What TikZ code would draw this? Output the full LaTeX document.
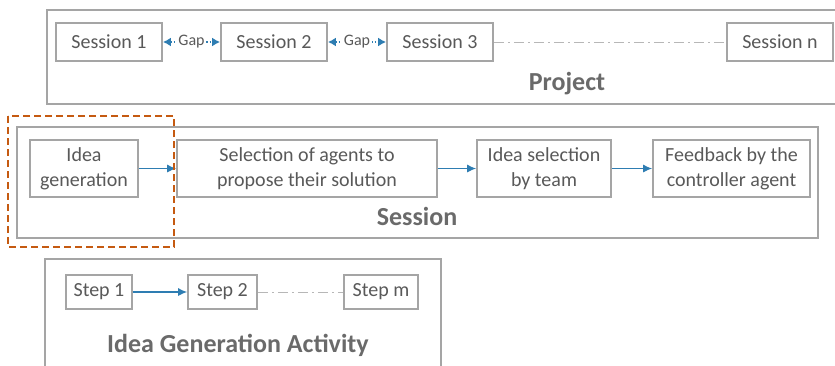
\documentclass[tikz,border=0pt]{standalone}
\usepackage{fontspec}
\setmainfont{Carlito}
\usetikzlibrary{arrows.meta}
\definecolor{boxgray}{RGB}{165,165,165}
\definecolor{txtgray}{RGB}{89,89,89}
\definecolor{flowblue}{RGB}{46,125,178}
\definecolor{markorange}{RGB}{197,90,17}
\tikzset{
	stage/.style={draw=boxgray,line width=1.8pt,fill=white,text=txtgray,align=center,
		inner sep=0pt,font=\fontsize{20}{25}\selectfont},
	frame/.style={draw=boxgray,line width=1.6pt},
	title/.style={text=txtgray!90!white,font=\fontsize{26}{30}\selectfont\bfseries},
	flow/.style={draw=flowblue,line width=1.1pt,-{Latex[length=9pt,width=8pt]}},
	gap/.style={draw=flowblue,line width=1.6pt,dash pattern=on 1.6pt off 2pt,
		{Latex[length=8pt,width=9pt]}-{Latex[length=8pt,width=9pt]}},
	later/.style={draw=boxgray!80!white,line width=1pt,dash pattern=on 10pt off 4pt on 2pt off 4pt}
}
\begin{document}
\begin{tikzpicture}[x=1pt,y=-1pt]
		\useasboundingbox (0,0) rectangle (835,365);
		% Project
		\draw[frame] (47,10) rectangle (845,104);
		\node[stage,minimum width=106,minimum height=38] (s1) at (109,42) {Session 1};
		\node[stage,minimum width=106,minimum height=38] (s2) at (274,42) {Session 2};
		\node[stage,minimum width=106,minimum height=38] (s3) at (440,42) {Session 3};
		\node[stage,minimum width=106,minimum height=38] (sn) at (780,42) {Session n};
		\draw[gap] (s1) -- (s2) node[midway,fill=white,inner sep=1.5pt,text=txtgray,font=\fontsize{16}{18}\selectfont] {Gap};
		\draw[gap] (s2) -- (s3) node[midway,fill=white,inner sep=1.5pt,text=txtgray,font=\fontsize{16}{18}\selectfont] {Gap};
		\draw[later] (s3) -- (sn);
		\node[title] (proj) at (567,84) {Project};
		% Session
		\draw[frame] (17,127) rectangle (818,238);
		\node[stage,minimum width=108,minimum height=57] (ig) at (84,168.5) {Idea\\generation};
		\node[stage,minimum width=260,minimum height=57] (sel) at (307,168.5) {Selection of agents to\\propose their solution};
		\node[stage,minimum width=134,minimum height=57] (isel) at (544,168.5) {Idea selection\\by team};
		\node[stage,minimum width=157,minimum height=57] (fb) at (731.5,168.5) {Feedback by the\\controller agent};
		\draw[flow] (ig) -- (sel);
		\draw[flow] (sel) -- (isel);
		\draw[flow] (isel) -- (fb);
		\node[title] (sess) at (417,216) {Session};
		% zoom mark
		\draw[markorange,line width=2pt,dash pattern=on 7pt off 4pt] (8,116) rectangle (174,247);
		% Idea generation activity
		\draw[frame] (45,259) rectangle (441,375);
		\node[stage,minimum width=66,minimum height=34] (st1) at (99,292) {Step 1};
		\node[stage,minimum width=69,minimum height=34] (st2) at (222.5,292) {Step 2};
		\node[stage,minimum width=74,minimum height=34] (stm) at (381,292) {Step m};
		\draw[flow] (st1) -- (st2);
		\draw[later] (st2) -- (stm);
		\node[title] (act) at (238,345) {Idea Generation Activity};
\end{tikzpicture}
\end{document}
